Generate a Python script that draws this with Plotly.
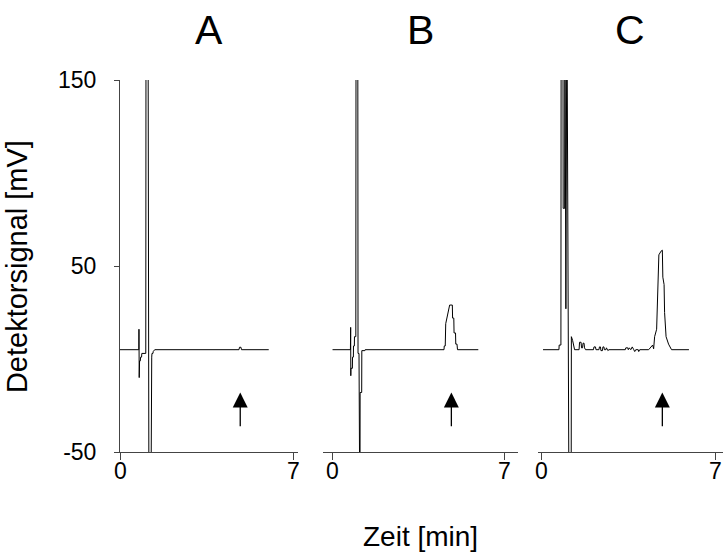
import plotly.graph_objects as go

# Chromatograms: retention time [min] and detector signal [mV]
time_a = [0, 0.76, 0.765, 0.775, 0.79, 0.82, 0.83, 0.87, 0.88, 1.04, 1.05, 1.13, 1.14, 1.16,
          1.17, 1.24, 1.25, 1.28, 1.29, 1.33, 1.34, 1.40, 4.80, 4.82, 4.88, 4.90, 6.0]
signal_a = [5, 5, 16, -10, -1, -1, 1, 1, 3, 3, 200, 200, 2, 2,
            -100, -100, 1, 1, 3, 3, 4, 5, 5, 6.3, 6.3, 5, 5]

time_b = [0, 0.73, 0.74, 0.745, 0.75, 0.81, 0.815, 0.85, 0.855, 0.89, 0.895, 0.95, 0.96, 1.03,
          1.04, 1.08, 1.09, 1.12, 1.125, 1.19, 1.195, 1.32, 1.33, 4.55, 4.56, 4.60, 4.62,
          4.70, 4.78, 4.89, 4.90, 4.95, 4.96, 5.02, 5.03, 5.08, 5.10, 5.95]
signal_b = [5, 5, 17, -9, -5, -5, 1, 1, 7, 7, 12, 12, 200, 200,
            3, 3, -100, -100, -18, -18, 4.5, 4.5, 5, 5, 7, 7, 19,
            24, 29, 29, 22, 22, 14, 14, 8, 8, 5, 5]

time_c = [0.05, 0.69, 0.70, 0.77, 0.78, 0.85, 0.86, 0.92, 0.93,
          0.97, 1.01, 1.05, 1.07,
          1.10, 1.18, 1.19, 1.24, 1.28, 1.32, 1.50, 1.52, 1.58, 1.60, 1.64, 1.66, 1.70, 1.72,
          1.76, 2.08, 2.10, 2.16, 2.18, 2.30, 2.32, 2.36, 2.38, 2.44, 2.46, 2.50, 2.52, 2.58,
          2.60, 2.66, 2.70, 3.36, 3.38, 3.46, 3.48, 3.52, 3.58, 3.64, 3.70, 3.74, 3.78, 3.88,
          3.90, 3.94, 4.30, 4.40, 4.46, 4.50, 4.52, 4.54, 4.62, 4.67, 4.70, 4.71, 4.80, 4.85,
          4.87, 4.92, 4.94, 5.00, 5.10, 5.14, 5.20, 5.22, 5.92]
signal_c = [5, 5, 7.5, 7.5, 200, 200, 81, 81, 200,
            27, 200, 20, 20,
            -100, -100, 12, 10, 7, 5, 5, 9, 9, 6, 6, 8.5, 8.5, 6,
            5, 5, 6.5, 6.5, 5, 5, 6.5, 6.5, 4.5, 4.5, 6.5, 6.5, 5, 5,
            6, 4.5, 5, 5, 6, 6, 5, 6, 5, 6.5, 5, 4, 5, 5,
            4, 5, 5, 7, 7.5, 5.5, 8, 12, 16, 37, 40, 56, 58, 58.5,
            44, 40, 25, 12, 8, 7, 5.5, 5, 5]

panels = ["A", "B", "C"]
times = [time_a, time_b, time_c]
signals = [signal_a, signal_b, signal_c]

# Time marked by the arrow in every panel and the arrow's extent in mV
arrow_time = 4.85
arrow_tip, arrow_tail = -18, -37

x_ticks = [0, 7]
y_ticks = [-50, 50, 150]
y_range = [-50, 150]

W, H = 723, 554
x_domains = [[120 / W, 297.5 / W], [322.5 / W, 518 / W], [537.8 / W, 1.0]]
x_ranges = [[0, 7.16], [-0.41, 7.57], [-0.16, 7.29]]

FONT = "Liberation Sans, Arial, sans-serif"
AXIS_COLOR = "#444444"

fig = go.Figure()

for i, (name, t, s) in enumerate(zip(panels, times, signals)):
    k = "" if i == 0 else str(i + 1)
    fig.add_trace(go.Scatter(
        x=t, y=s, mode="lines",
        line=dict(color="black", width=1),
        xaxis="x" + k, yaxis="y" + k, showlegend=False, hoverinfo="skip",
    ))
    fig.update_layout(**{
        "xaxis" + k: dict(
            domain=x_domains[i], range=x_ranges[i], anchor="y" + k,
            showline=True, linecolor=AXIS_COLOR, linewidth=1,
            ticks="outside", ticklen=7, tickcolor=AXIS_COLOR, tickwidth=1,
            tickvals=x_ticks, showticklabels=False, automargin=False,
            showgrid=False, zeroline=False,
        ),
        "yaxis" + k: dict(
            range=y_range, anchor="x" + k, visible=(i == 0),
            showline=True, linecolor=AXIS_COLOR, linewidth=1,
            ticks="outside", ticklen=5, tickcolor=AXIS_COLOR, tickwidth=1,
            tickvals=y_ticks, ticktext=[str(v) for v in y_ticks],
            tickfont=dict(size=23, color="black", family=FONT),
            ticklabelstandoff=13, automargin=False,
            showgrid=False, zeroline=False,
        ),
    })
    # x tick labels, set just below the tick marks
    for v in x_ticks:
        fig.add_annotation(
            text=str(v), x=v, y=0, xref="x" + k, yref="y" + k + " domain",
            xanchor="center", yanchor="top", yshift=-4, showarrow=False,
            font=dict(size=23, color="black", family=FONT),
        )
    # panel letter
    fig.add_annotation(
        text=name, xref="x" + k + " domain", yref="paper",
        x=0.5, y=1.135, xanchor="center", yanchor="middle",
        showarrow=False, font=dict(size=41, color="black", family=FONT),
    )
    # arrow marking the analyte peak
    fig.add_annotation(
        x=arrow_time, y=arrow_tip, ax=arrow_time, ay=arrow_tail,
        xref="x" + k, yref="y" + k, axref="x" + k, ayref="y" + k,
        text="", showarrow=True, arrowhead=2, arrowsize=2.3, arrowwidth=1.3,
        arrowcolor="black",
    )

fig.add_annotation(
    text="Zeit [min]", xref="paper", yref="paper", x=420 / W, y=-0.226,
    xanchor="center", yanchor="middle", showarrow=False,
    font=dict(size=28, color="black", family=FONT),
)
fig.add_annotation(
    text="Detektorsignal [mV]", xref="paper", yref="paper", x=17 / W, y=0.497,
    xanchor="center", yanchor="middle", textangle=-90, showarrow=False,
    font=dict(size=29, color="black", family=FONT),
)

fig.update_layout(
    width=W, height=H,
    margin=dict(l=0, r=0, t=80, b=102),
    paper_bgcolor="white", plot_bgcolor="white",
    font=dict(family=FONT, color="black"),
)

fig.write_html("out.html")
